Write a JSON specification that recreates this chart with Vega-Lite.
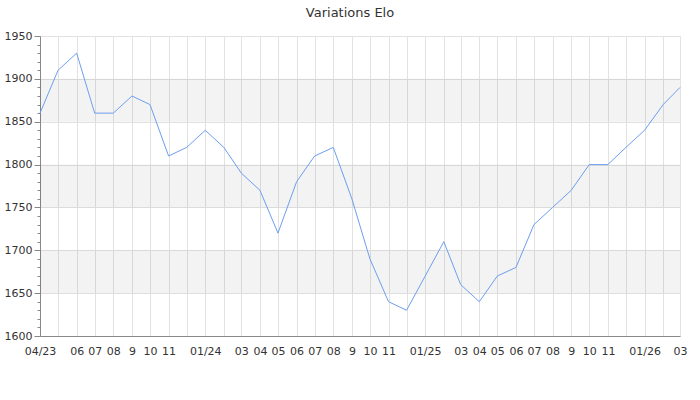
{
  "$schema": "https://vega.github.io/schema/vega-lite/v6.json",
  "width": 640,
  "height": 300,
  "autosize": {"type": "none"},
  "padding": {"left": 40, "top": 36, "right": 20, "bottom": 64},
  "background": "white",
  "title": {"text": "Variations Elo", "font": "DejaVu Sans", "fontSize": 13, "fontWeight": "normal", "color": "#333333", "offset": 10, "dx": -10},
  "config": {"view": {"stroke": null}, "font": "DejaVu Sans"},
  "datasets": {
    "elo": [
      {"date": "2023-04-01", "elo": 1860},
      {"date": "2023-05-01", "elo": 1910},
      {"date": "2023-06-01", "elo": 1930},
      {"date": "2023-07-01", "elo": 1860},
      {"date": "2023-08-01", "elo": 1860},
      {"date": "2023-09-01", "elo": 1880},
      {"date": "2023-10-01", "elo": 1870},
      {"date": "2023-11-01", "elo": 1810},
      {"date": "2023-12-01", "elo": 1820},
      {"date": "2024-01-01", "elo": 1840},
      {"date": "2024-02-01", "elo": 1820},
      {"date": "2024-03-01", "elo": 1790},
      {"date": "2024-04-01", "elo": 1770},
      {"date": "2024-05-01", "elo": 1720},
      {"date": "2024-06-01", "elo": 1780},
      {"date": "2024-07-01", "elo": 1810},
      {"date": "2024-08-01", "elo": 1820},
      {"date": "2024-09-01", "elo": 1760},
      {"date": "2024-10-01", "elo": 1690},
      {"date": "2024-11-01", "elo": 1640},
      {"date": "2024-12-01", "elo": 1630},
      {"date": "2025-01-01", "elo": 1670},
      {"date": "2025-02-01", "elo": 1710},
      {"date": "2025-03-01", "elo": 1660},
      {"date": "2025-04-01", "elo": 1640},
      {"date": "2025-05-01", "elo": 1670},
      {"date": "2025-06-01", "elo": 1680},
      {"date": "2025-07-01", "elo": 1730},
      {"date": "2025-08-01", "elo": 1750},
      {"date": "2025-09-01", "elo": 1770},
      {"date": "2025-10-01", "elo": 1800},
      {"date": "2025-11-01", "elo": 1800},
      {"date": "2025-12-01", "elo": 1820},
      {"date": "2026-01-01", "elo": 1840},
      {"date": "2026-02-01", "elo": 1870},
      {"date": "2026-03-01", "elo": 1890}
    ],
    "bands": [
      {"lo": 1650, "hi": 1700},
      {"lo": 1750, "hi": 1800},
      {"lo": 1850, "hi": 1900}
    ]
  },
  "layer": [
    {
      "data": {"name": "bands"},
      "mark": {"type": "rect", "color": "#000000", "opacity": 0.047},
      "encoding": {
        "y": {
          "field": "lo", "type": "quantitative",
          "scale": {"domain": [1600, 1950], "nice": false, "zero": false},
          "axis": {
            "title": null,
            "values": [1600,1610,1620,1630,1640,1650,1660,1670,1680,1690,1700,1710,1720,1730,1740,1750,1760,1770,1780,1790,1800,1810,1820,1830,1840,1850,1860,1870,1880,1890,1900,1910,1920,1930,1940,1950],
            "labelExpr": "datum.value % 50 == 0 ? datum.label : ''",
            "format": "d",
            "tickSize": {"condition": {"test": "datum.value % 50 == 0", "value": 6}, "value": 3},
            "tickColor": "#888888",
            "domainColor": "#888888",
            "gridColor": "#e2e2e2",
            "gridOpacity": {"condition": {"test": "datum.value % 50 == 0", "value": 1}, "value": 0},
            "labelColor": "#333333",
            "labelFontSize": 11,
            "labelPadding": 2
          }
        },
        "y2": {"field": "hi"}
      }
    },
    {
      "data": {"name": "elo"},
      "mark": {"type": "line", "color": "#6d9ef0", "strokeWidth": 1},
      "encoding": {
        "x": {
          "field": "date", "type": "temporal", "timeUnit": "yearmonthdate",
          "scale": {"domain": ["2023-04-01", "2026-03-01"], "nice": false},
          "axis": {
            "title": null,
            "tickCount": {"interval": "month", "step": 1},
            "ticks": false,
            "domainColor": "#888888",
            "gridColor": "#e2e2e2",
            "labelColor": "#333333",
            "labelFontSize": 11,
            "labelPadding": 9,
            "labelOverlap": false,
            "labelFlush": false,
            "labelExpr": "month(datum.value) == 4 && year(datum.value) == 2023 ? '' : month(datum.value) == 11 || month(datum.value) == 1 ? '' : month(datum.value) == 0 ? timeFormat(datum.value, '%m/%y') : (month(datum.value) == 3 && year(datum.value) == 2023) ? '04/23' : month(datum.value) == 8 ? '9' : timeFormat(datum.value, '%m')"
          }
        },
        "y": {
          "field": "elo", "type": "quantitative",
          "scale": {"domain": [1600, 1950], "nice": false, "zero": false},
          "axis": {
            "title": null,
            "values": [1600,1610,1620,1630,1640,1650,1660,1670,1680,1690,1700,1710,1720,1730,1740,1750,1760,1770,1780,1790,1800,1810,1820,1830,1840,1850,1860,1870,1880,1890,1900,1910,1920,1930,1940,1950],
            "labelExpr": "datum.value % 50 == 0 ? datum.label : ''",
            "format": "d",
            "tickSize": {"condition": {"test": "datum.value % 50 == 0", "value": 6}, "value": 3},
            "tickColor": "#888888",
            "domainColor": "#888888",
            "gridColor": "#e2e2e2",
            "gridOpacity": {"condition": {"test": "datum.value % 50 == 0", "value": 1}, "value": 0},
            "labelColor": "#333333",
            "labelFontSize": 11,
            "labelPadding": 2
          }
        }
      }
    }
  ]
}
